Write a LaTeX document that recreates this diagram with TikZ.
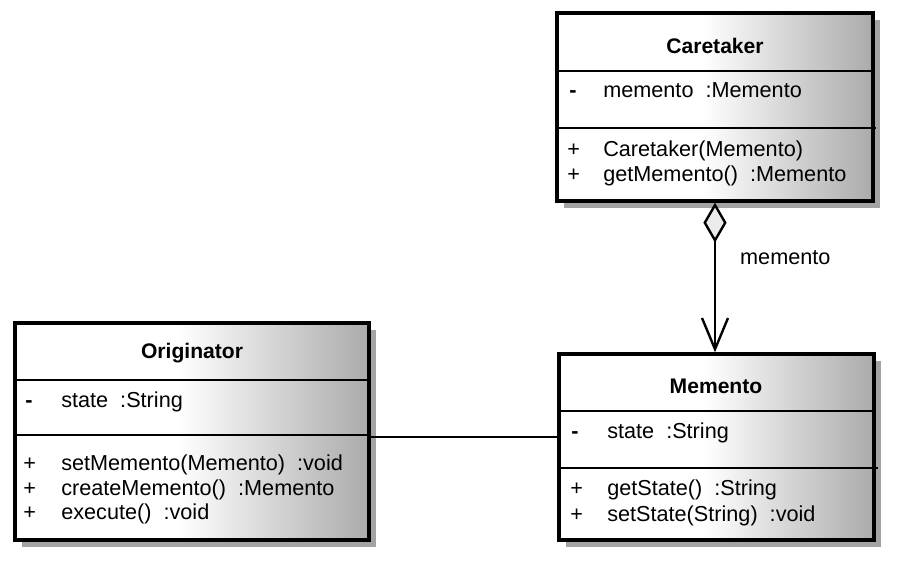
\documentclass[tikz,border=0pt]{standalone}
\usepackage{fontspec}
\setmainfont{Liberation Sans}
\usetikzlibrary{arrows.meta,positioning,fit,shadows}
\definecolor{ShadowGray}{gray}{0.64}
\definecolor{DiamondFill}{gray}{0.92}
\pgfdeclarehorizontalshading{classfade}{100bp}{color(0bp)=(white); color(25bp)=(white); color(48bp)=(white); color(75bp)=(black!33); color(100bp)=(black!33)}
\tikzset{
  diagram/.style={x=0.025cm,y=-0.025cm,font=\fontsize{15.4}{18}\selectfont},
  classbox/.style={draw=black,line width=2.4pt,shade,shading=classfade,inner sep=0pt,
    drop shadow={shadow xshift=0.18cm,shadow yshift=-0.18cm,fill=ShadowGray,opacity=1}},
  divider/.style={draw=black,line width=2pt},
  title/.style={font=\fontsize{15}{18}\selectfont\bfseries,inner sep=0pt},
  member/.style={anchor=west,inner sep=0pt,text height=11pt,text depth=3pt},
  assoc/.style={draw=black,line width=1.7pt},
}

\begin{document}
\begin{tikzpicture}[diagram]
  \useasboundingbox (0,0) rectangle (897,564);

  % Caretaker
  \node[classbox,fit={(557,13) (873,201)}] (caretaker) {};
  \draw[divider] (557,71) -- (873,71);
  \draw[divider] (557,128) -- (876,128);
  \node[title] (caretakerTitle) at (715,46) {Caretaker};
  \node[member] (caretakerAttrSign) at (569,92) {\textbf{-}};
  \node[member] (caretakerAttr) at (603,92) {memento~~:Memento};
  \node[member] (caretakerOpSignA) at (567,151) {+};
  \node[member] (caretakerOpA) at (603,151) {Caretaker(Memento)};
  \node[member] (caretakerOpSignB) at (567,176) {+};
  \node[member] (caretakerOpB) at (603,176) {getMemento()~~:Memento};

  % Memento
  \node[classbox,fit={(559,354) (874,540)}] (memento) {};
  \draw[divider] (559,411) -- (874,411);
  \draw[divider] (559,468) -- (878,468);
  \node[title] (mementoTitle) at (716,386) {Memento};
  \node[member] (mementoAttrSign) at (571,433) {\textbf{-}};
  \node[member] (mementoAttr) at (607,433) {state~~:String};
  \node[member] (mementoOpSignA) at (570,490) {+};
  \node[member] (mementoOpA) at (607,490) {getState()~~:String};
  \node[member] (mementoOpSignB) at (570,516) {+};
  \node[member] (mementoOpB) at (607,516) {setState(String)~~:void};

  % Originator
  \node[classbox,fit={(15,323) (369,540)}] (originator) {};
  \draw[divider] (15,380) -- (369,380);
  \draw[divider] (15,435) -- (369,435);
  \node[title] (originatorTitle) at (192,353) {Originator};
  \node[member] (originatorAttrSign) at (25,402) {\textbf{-}};
  \node[member] (originatorAttr) at (61,402) {state~~:String};
  \node[member] (originatorOpSignA) at (23,465) {+};
  \node[member] (originatorOpA) at (61,465) {setMemento(Memento)~~:void};
  \node[member] (originatorOpSignB) at (23,490) {+};
  \node[member] (originatorOpB) at (61,490) {createMemento()~~:Memento};
  \node[member] (originatorOpSignC) at (23,514) {+};
  \node[member] (originatorOpC) at (61,514) {execute()~~:void};

  % connectors
  \draw[assoc,{Diamond[length=1cm,width=0.58cm,fill=DiamondFill]}-{Straight Barb[length=0.78cm,width=0.65cm]}]
    (caretaker.south) -- (caretaker.south |- memento.north)
    node[pos=0.37,right=0.6cm,inner sep=0pt] (holdLabel) {memento};
  \coordinate (linkLevel) at (0,437);
  \draw[assoc] (originator.east |- linkLevel) -- (memento.west |- linkLevel);
\end{tikzpicture}
\end{document}
